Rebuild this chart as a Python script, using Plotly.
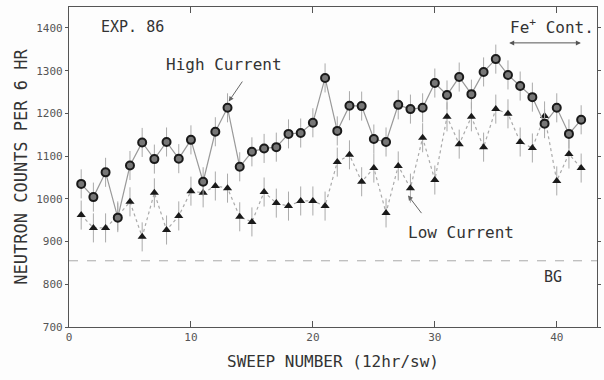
import plotly.graph_objects as go

sweep = list(range(1, 43))
high_current = [1035, 1004, 1062, 956, 1078, 1132, 1093, 1133, 1094, 1138,
                1040, 1157, 1213, 1075, 1110, 1118, 1121, 1152, 1154, 1178,
                1283, 1159, 1218, 1217, 1140, 1133, 1220, 1210, 1213, 1271,
                1243, 1285, 1245, 1297, 1327, 1290, 1264, 1238, 1176, 1213,
                1152, 1185]
low_current = [962, 932, 932, 960, 993, 911, 1014, 927, 960, 1018,
               1014, 1030, 1025, 958, 946, 1016, 990, 983, 995, 995,
               983, 1086, 1103, 1040, 1072, 967, 1077, 1025, 1143, 1044,
               1192, 1128, 1192, 1121, 1210, 1199, 1133, 1119, 1194, 1042,
               1105, 1072]
error = 34
background = 855
x_ticks = [0, 10, 20, 30, 40]
y_ticks = [700, 800, 900, 1000, 1100, 1200, 1300, 1400]

FONT = "DejaVu Sans Mono"
INK = "#333333"

fig = go.Figure()
fig.add_trace(go.Scatter(
    x=[0, 43.3], y=[background, background], mode="lines",
    line=dict(color="#aaaaaa", width=1, dash="dash"), showlegend=False,
    hoverinfo="skip"))
fig.add_trace(go.Scatter(
    x=sweep, y=low_current, mode="lines+markers",
    line=dict(color="#aaaaaa", width=1.2, dash="dot"),
    marker=dict(symbol="triangle-up", size=8, color="#1a1a1a"),
    error_y=dict(type="constant", value=error, color="#aaaaaa", thickness=1, width=0),
    name="Low Current", showlegend=False))
fig.add_trace(go.Scatter(
    x=sweep, y=high_current, mode="lines+markers",
    line=dict(color="#999999", width=1.2),
    marker=dict(symbol="circle", size=8, color="#777777",
                line=dict(color="#1a1a1a", width=2)),
    error_y=dict(type="constant", value=error, color="#aaaaaa", thickness=1, width=0),
    name="High Current", showlegend=False))

ann = []
ann.append(dict(x=2.5, y=1403, text="EXP. 86", showarrow=False, xanchor="left",
                yanchor="middle", font=dict(family=FONT, size=15, color=INK)))
ann.append(dict(x=7.8, y=1314, text="High Current", showarrow=False, xanchor="left",
                yanchor="middle", font=dict(family=FONT, size=16, color=INK)))
ann.append(dict(x=13.1, y=1228, ax=14.3, ay=1278, xref="x", yref="y", axref="x", ayref="y",
                text="", showarrow=True, arrowhead=2, arrowsize=1, arrowwidth=1,
                arrowcolor="#666666"))
ann.append(dict(x=27.8, y=1008, ax=29.0, ay=963, xref="x", yref="y", axref="x", ayref="y",
                text="", showarrow=True, arrowhead=2, arrowsize=1, arrowwidth=1,
                arrowcolor="#666666"))
ann.append(dict(x=27.6, y=922, text="Low Current", showarrow=False, xanchor="left",
                yanchor="middle", font=dict(family=FONT, size=16, color=INK)))
ann.append(dict(x=36.0, y=1403, text="Fe<sup>+</sup> Cont.", showarrow=False, xanchor="left",
                yanchor="middle", font=dict(family=FONT, size=16, color=INK)))
ann.append(dict(x=36.1, y=1365, ax=42.1, ay=1365, xref="x", yref="y", axref="x", ayref="y",
                text="", showarrow=True, arrowhead=2, startarrowhead=2, arrowside="end+start",
                arrowsize=1, arrowwidth=1, arrowcolor="#555555"))
ann.append(dict(x=39.7, y=818, text="BG", showarrow=False, xanchor="center",
                yanchor="middle", font=dict(family=FONT, size=15, color=INK)))
fig.update_layout(annotations=ann)

fig.update_layout(
    width=604, height=380,
    margin=dict(l=69, r=3, t=7, b=53),
    paper_bgcolor="#fdfdfd", plot_bgcolor="#fdfdfd",
    font=dict(family=FONT, color=INK, size=11),
    xaxis=dict(range=[0, 43.3], tickvals=x_ticks, ticks="inside", ticklen=6,
               tickcolor="#555555", showline=True, linecolor="#555555", linewidth=1.2,
               mirror="ticks", showgrid=False, zeroline=False,
               tickfont=dict(family=FONT, size=11, color="#555555"),
               title=dict(text="SWEEP NUMBER (12hr/sw)", standoff=12,
                          font=dict(family=FONT, size=16, color=INK))),
    yaxis=dict(range=[700, 1449], tickvals=y_ticks, ticks="outside", ticklen=3,
               tickcolor="#555555", showline=True, linecolor="#555555", linewidth=1.2,
               mirror="ticks", showgrid=False, zeroline=False,
               tickfont=dict(family=FONT, size=11, color="#555555"),
               title=dict(text="NEUTRON COUNTS PER 6 HR", standoff=4,
                          font=dict(family=FONT, size=17, color=INK))),
)

fig.write_html("out.html")
